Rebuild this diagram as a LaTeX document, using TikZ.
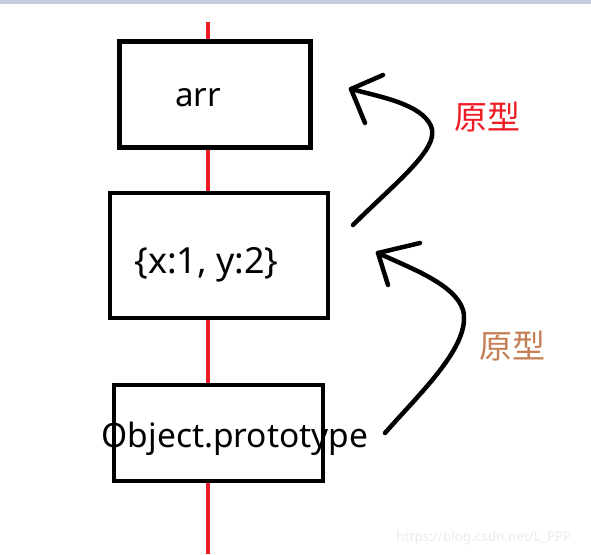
\documentclass[tikz,border=0pt]{standalone}
\usepackage{fontspec}
\setmainfont{Noto Sans}
\newfontfamily\cjk{Noto Sans CJK SC}
\definecolor{topbar}{HTML}{C5CEE0}
\definecolor{axisred}{HTML}{ED1C24}
\definecolor{labbrown}{HTML}{C47F55}
\definecolor{wmgray}{HTML}{EBEBEB}
\begin{document}
\begin{tikzpicture}[x=1pt,y=-1pt,
  objbox/.style={draw=black,line width=4.8pt,minimum width=#1,inner sep=0pt},
  arrowline/.style={draw=black,line width=4.5pt,line cap=round,line join=round},
  lab/.style={font=\cjk\fontsize{33}{36}\selectfont,inner sep=0pt}]
\useasboundingbox (0,0) rectangle (591,554);
\fill[topbar] (0,0) rectangle (591,3.5);
% red axis
\coordinate (axtop) at (208,22);
\coordinate (axbot) at (208,554);
\draw[axisred,line width=4.5pt] (axtop) -- (axbot);
% boxes
\node[objbox=191pt,minimum height=106pt,fill=white] (arrbox) at (215,94.5) {};
\node[objbox=218pt,minimum height=125pt,fill=white] (objbox) at (219,255.5) {};
\node[objbox=209pt,minimum height=96pt,fill=white] (protobox) at (218.5,433) {};
% texts
\node[font=\fontsize{33}{36}\selectfont,inner sep=0pt,anchor=base] (arrtxt) at (198,106) {arr};
\node[font=\fontsize{36}{40}\selectfont,inner sep=0pt] (objtxt) at (206.5,265) {\{x:1, y:2\}};
\node[font=\fontsize{33.5}{36}\selectfont,inner sep=0pt,anchor=base] (prototxt) at (235,447) {Object.prototype};
% labels
\node[lab,text=axisred] (lab1) at (487,117) {原型};
\node[lab,text=labbrown] (lab2) at (512,346) {原型};
% arrow 1
\coordinate (a1s) at (353,225);
\coordinate (a1m) at (431,126);
\coordinate (a1t) at (351,89);
\coordinate (a1h1) at (383,75);
\coordinate (a1h2) at (365,123);
\draw[arrowline] (a1s) .. controls (395,183) and (441,148) .. (a1m) .. controls (421,104) and (381,97) .. (a1t);
\draw[arrowline] (a1h1) -- (a1t) -- (a1h2);
% arrow 2
\coordinate (a2s) at (385,433);
\coordinate (a2m) at (463,310);
\coordinate (a2t) at (378,253);
\coordinate (a2h1) at (420,243);
\coordinate (a2h2) at (388,285);
\draw[arrowline] (a2s) .. controls (420,393) and (472,345) .. (a2m) .. controls (455,284) and (410,268) .. (a2t);
\draw[arrowline] (a2h1) -- (a2t) -- (a2h2);
% watermark
\node[font=\fontsize{13.5}{15}\selectfont,text=wmgray,inner sep=0pt] (wm) at (484,538) {https://blog.csdn.net/L\_PPP};
\end{tikzpicture}
\end{document}
